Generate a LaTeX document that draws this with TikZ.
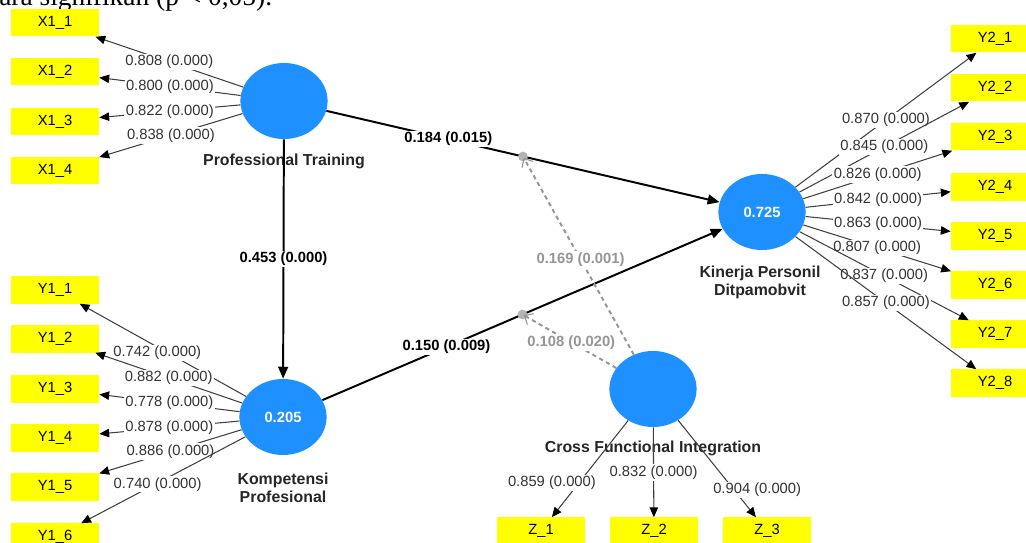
\documentclass[tikz,border=0pt]{standalone}
\usepackage{fontspec}
\setmainfont{Liberation Sans}
\newfontfamily\serifpart{Liberation Serif}
\usetikzlibrary{arrows.meta,shapes.geometric,calc}

\definecolor{lvblue}{RGB}{30,144,255}
\definecolor{indyellow}{RGB}{255,255,0}
\definecolor{modgray}{RGB}{150,150,150}
\definecolor{dotgray}{RGB}{180,180,180}

\tikzset{
  ind/.style={rectangle, fill=indyellow, minimum width=2.2cm, minimum height=0.675cm,
    inner sep=0pt, font=\fontsize{10.5}{12}\selectfont},
  lv/.style={ellipse, fill=lvblue, minimum width=2.18cm, minimum height=1.9cm,
    inner sep=0pt, text=white, font=\bfseries\fontsize{10.5}{12}\selectfont},
  lvname/.style={inner sep=0pt, align=center, text=black!85,
    font=\bfseries\fontsize{11.3}{12.8}\selectfont},
  load/.style={draw=black!75, line width=0.75pt, -{Triangle[length=7pt,width=6pt,black]}},
  coefpath/.style={draw=black, line width=1.4pt, -{Triangle[length=8.5pt,width=7pt]}},
  modpath/.style={draw=modgray, line width=1.4pt, dash pattern=on 3pt off 2.5pt,
    -{Straight Barb[length=5pt,width=9pt,line width=0.8pt,modgray]}},
  lbl/.style={fill=white, inner sep=1pt, text=black!80, font=\fontsize{10.5}{12}\selectfont},
  clbl/.style={fill=white, inner sep=1pt, text=black, font=\bfseries\fontsize{10.5}{12}\selectfont},
  mlbl/.style={fill=white, inner sep=1pt, text=modgray, font=\bfseries\fontsize{10.5}{12}\selectfont}
}

\begin{document}
\begin{tikzpicture}[x=0.025cm, y=-0.025cm]
        \useasboundingbox (0,0) rectangle (1026,543);
        \clip (0,0) rectangle (1026,543);

        % cut-off line of the page text
        \node[anchor=base west, inner sep=0pt, font=\serifpart\fontsize{19.5}{22}\selectfont] (pagetext) at (-1,6) {ara signifikan (p < 0,05).};

        % latent variables
        \node[lv] (pt) at (284,101) {};
        \node[lv] (kp) at (283,417) {0.205};
        \node[lv] (kr) at (762,212) {0.725};
        \node[lv] (cf) at (653,389) {};

        \node[lvname] (ptname) at (284,161) {Professional Training};
        \node[lvname] (kpname) at (283,488) {Kompetensi\\Profesional};
        \node[lvname] (krname) at (760,282) {Kinerja Personil\\Ditpamobvit};
        \node[lvname] (cfname) at (653,448) {Cross Functional Integration};

        % indicators
        \node[ind] (x11) at (55,23) {X1\_1};
        \node[ind] (x12) at (55,72) {X1\_2};
        \node[ind] (x13) at (55,121.5) {X1\_3};
        \node[ind] (x14) at (55,170.5) {X1\_4};

        \node[ind] (y11) at (55,290) {Y1\_1};
        \node[ind] (y12) at (55,339) {Y1\_2};
        \node[ind] (y13) at (55,389) {Y1\_3};
        \node[ind] (y14) at (55,438) {Y1\_4};
        \node[ind] (y15) at (55,487) {Y1\_5};
        \node[ind] (y16) at (55,537) {Y1\_6};

        \node[ind] (y21) at (995,39) {Y2\_1};
        \node[ind] (y22) at (995,88) {Y2\_2};
        \node[ind] (y23) at (995,137) {Y2\_3};
        \node[ind] (y24) at (995,187) {Y2\_4};
        \node[ind] (y25) at (995,236) {Y2\_5};
        \node[ind] (y26) at (995,285) {Y2\_6};
        \node[ind] (y27) at (995,334) {Y2\_7};
        \node[ind] (y28) at (995,383) {Y2\_8};

        \node[ind] (z1) at (541,531) {Z\_1};
        \node[ind] (z2) at (654,531) {Z\_2};
        \node[ind] (z3) at (767,531) {Z\_3};

        % outer loadings
        \draw[load] (pt) -- (x11) node[lbl, midway] {0.808 (0.000)};
        \draw[load] (pt) -- (x12) node[lbl, midway] {0.800 (0.000)};
        \draw[load] (pt) -- (x13) node[lbl, midway] {0.822 (0.000)};
        \draw[load] (pt) -- (x14) node[lbl, midway] {0.838 (0.000)};

        \draw[load] (kp) -- (y11) node[lbl, midway, xshift=-4pt, yshift=-2pt] {0.742 (0.000)};
        \draw[load] (kp) -- (y12) node[lbl, midway] {0.882 (0.000)};
        \draw[load] (kp) -- (y13) node[lbl, midway] {0.778 (0.000)};
        \draw[load] (kp) -- (y14) node[lbl, midway] {0.878 (0.000)};
        \draw[load] (kp) -- (y15) node[lbl, midway] {0.886 (0.000)};
        \draw[load] (kp) -- (y16) node[lbl, midway, xshift=-4pt, yshift=-3pt] {0.740 (0.000)};

        \draw[load] (kr) -- (y21) node[lbl, midway] {0.870 (0.000)};
        \draw[load] (kr) -- (y22) node[lbl, midway] {0.845 (0.000)};
        \draw[load] (kr) -- (y23) node[lbl, midway] {0.826 (0.000)};
        \draw[load] (kr) -- (y24) node[lbl, midway] {0.842 (0.000)};
        \draw[load] (kr) -- (y25) node[lbl, midway] {0.863 (0.000)};
        \draw[load] (kr) -- (y26) node[lbl, midway] {0.807 (0.000)};
        \draw[load] (kr) -- (y27) node[lbl, midway] {0.837 (0.000)};
        \draw[load] (kr) -- (y28) node[lbl, midway] {0.857 (0.000)};

        \draw[load] (cf) -- (z1) node[lbl, pos=0.645, xshift=-0.675cm] {0.859 (0.000)};
        \draw[load] (cf) -- (z2) node[lbl, midway] {0.832 (0.000)};
        \draw[load] (cf) -- (z3) node[lbl, pos=0.72, xshift=0.575cm] {0.904 (0.000)};

        % structural paths
        \draw[coefpath] (pt) -- (kp) node[clbl, midway] {0.453 (0.000)};
        \draw[coefpath] (pt) -- (kr) node[clbl, pos=0.31] {0.184 (0.015)};
        \draw[coefpath] (kp) -- (kr) node[clbl, pos=0.31] {0.150 (0.009)};

        % moderating effects
        \coordinate (m1) at ($(pt)!0.5!(kr)$);
        \coordinate (m2) at ($(kp)!0.5!(kr)$);
        \fill[dotgray] (m1) circle (3.5pt);
        \fill[dotgray] (m2) circle (3.5pt);
        \draw[modpath, shorten >=1pt] (cf) -- (m1) node[mlbl, pos=0.48] {0.169 (0.001)};
        \draw[modpath, shorten >=1pt] (cf) -- (m2) node[mlbl, pos=0.48] {0.108 (0.020)};
      \end{tikzpicture}
\end{document}
